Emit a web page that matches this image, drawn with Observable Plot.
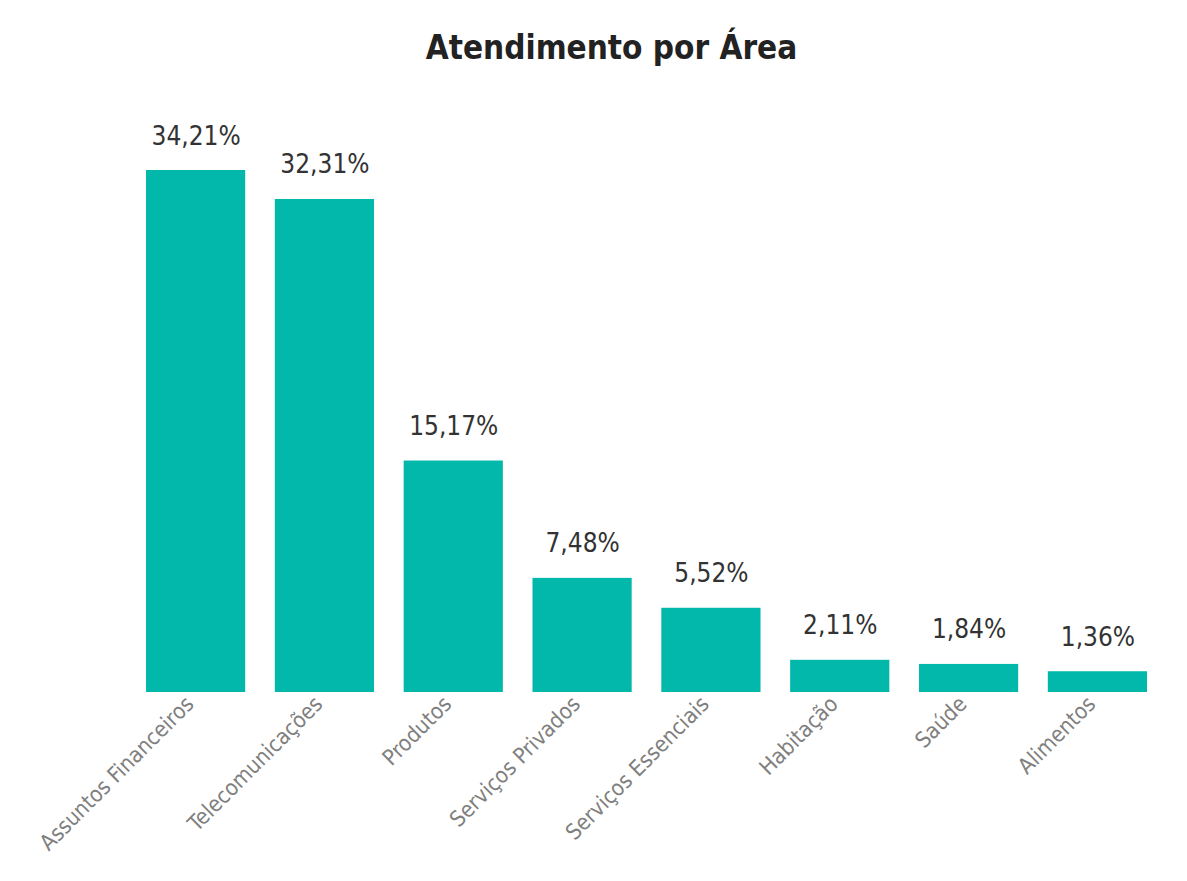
<!DOCTYPE html>
<html>
<head>
<meta charset="utf-8">
<script src="https://cdn.jsdelivr.net/npm/d3@7"></script>
<script src="https://cdn.jsdelivr.net/npm/@observablehq/plot@0.6"></script>
<style>
  html, body { margin: 0; padding: 0; background: #fff; }
  #title { height: 90px; box-sizing: border-box; padding-top: 28px; padding-left: 36px; text-align: center;
    font-family: "DejaVu Sans Condensed", "DejaVu Sans", sans-serif; font-size: 33px; font-weight: bold; color: #222; line-height: 40px; }
</style>
</head>
<body>
<div id="title">Atendimento por Área</div>
<div id="chart"></div>
<script>
const categories = ["Assuntos Financeiros", "Telecomunicações", "Produtos", "Serviços Privados", "Serviços Essenciais", "Habitação", "Saúde", "Alimentos"];
const values = [34.21, 32.31, 15.17, 7.48, 5.52, 2.11, 1.84, 1.36];
const data = categories.map((c, i) => ({area: c, pct: values[i]}));
const fmt = v => v.toFixed(2).replace(".", ",") + "%";

const chart = Plot.plot({
  width: 1187,
  height: 791,
  marginTop: 80,
  marginBottom: 189,
  marginLeft: 146,
  marginRight: 40,
  style: {fontFamily: "'DejaVu Sans Condensed', 'DejaVu Sans', sans-serif", background: "#fff"},
  x: {domain: categories, paddingInner: 0.23, paddingOuter: 0, round: false, label: null},
  y: {domain: [0, 34.21], axis: null},
  marks: [
    Plot.barY(data, {x: "area", y: "pct", fill: "#01B8AA"}),
    Plot.text(data, {x: "area", y: "pct", text: d => fmt(d.pct), lineAnchor: "bottom", dy: -26, fontSize: 26, fill: "#333"}),
    Plot.axisX({tickSize: 0, tickPadding: 8, dx: -6, tickRotate: -45, fontSize: 22, fill: "#808080", label: null})
  ]
});
document.getElementById("chart").appendChild(chart);
</script>
</body>
</html>
